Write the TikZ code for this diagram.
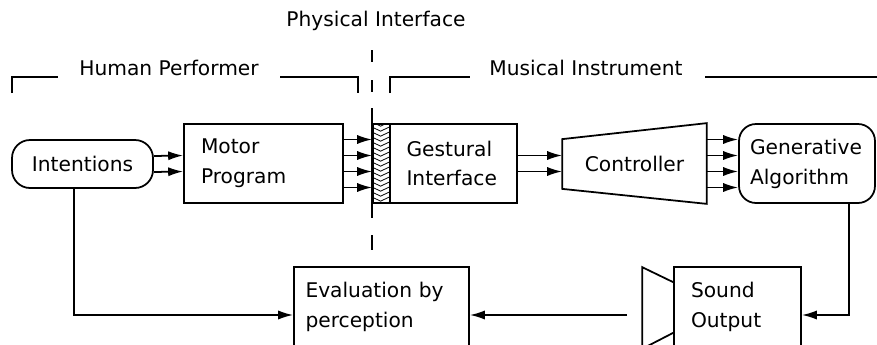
\documentclass[tikz,border=0pt]{standalone}
\usepackage{fontspec}
\setmainfont{DejaVu Sans}
\usetikzlibrary{arrows.meta,calc}

\tikzset{
  lbl/.style={font=\fontsize{11.5}{17}\selectfont},
  blk/.style={lbl, draw, align=left, inner xsep=0.34cm, minimum height=1.58cm},
  pill/.style={lbl, draw, rounded corners=0.36cm},
}

\begin{document}
\begin{tikzpicture}[x=0.02cm, y=-0.02cm, >={Latex[length=8.5pt,width=5.2pt]}, line width=1pt]
  \useasboundingbox (0,0) rectangle (877,345);
  \clip (0,0) rectangle (877,345);

  % blocks
  \node[pill, minimum width=2.82cm, minimum height=0.96cm] (intent) at (82.5,164) {Intentions};
  \node[blk, text width=2.5cm] (motor) at (263.5,163.5) {Motor\\Program};
  \node[draw, minimum width=0.34cm, minimum height=1.58cm, inner sep=0pt] (skin) at (381.5,163.5) {};
  \node[blk, text width=1.88cm, inner xsep=0.33cm] (gest) at (453.5,163.5) {Gestural\\Interface};
  \node[lbl, minimum width=2.86cm, minimum height=1.58cm] (ctrl) at (634.5,163.5) {Controller};
  \node[pill, align=left, rounded corners=0.34cm, text width=2.28cm, inner xsep=0.22cm, minimum height=1.58cm] (gen) at (807,163.5) {Generative\\Algorithm};
  \node[blk, text width=3.04cm, inner xsep=0.23cm] (eval) at (381.5,306.5) {Evaluation by\\perception};
  \node[blk, text width=1.86cm] (sound) at (737.5,306.5) {Sound\\Output};

  % controller outline and loudspeaker
  \draw (ctrl.north east) -- (ctrl.south east) -- ($(ctrl.south west)+(0,-15)$)
    -- ($(ctrl.north west)+(0,16)$) -- cycle;
  \draw ($(sound.north west)+(0,16)$) -- ($(sound.north west)+(-31,1)$)
    -- ($(sound.south west)+(-31,2)$) -- ($(sound.south west)+(0,-14)$);

  % hatching of the physical interface
  \begin{scope}
    \clip (skin.north west) rectangle (skin.south east);
    \foreach \k in {0,...,19}
      \draw[line width=0.45pt] ($(skin.north west)+(0,5*\k-1)$) -- ++(8.5,4) -- ++(8.5,-4);
  \end{scope}

  % labels and brackets
  \node[lbl] (phys) at (376,21) {Physical Interface};
  \node[lbl] (human) at (169,68) {Human Performer};
  \node[lbl] (music) at (586,68) {Musical Instrument};
  \draw (12,93) |- (58,77);
  \draw (280,77) -| (358,93);
  \draw (390,93) |- (470,77);
  \draw (705,77) -- (877,77);
  \foreach \a/\b in {50/62, 80/92, 108/218, 235/250}
    \draw (skin.west |- 0,\a) -- (skin.west |- 0,\b);

  % forward connectors
  \foreach \dy in {-8,8}
    \draw[->] ($(intent.east)+(0,\dy)$) -- ($(motor.west)+(0,\dy)$);
  \foreach \dy in {-24,-8,8,24}
    \draw[->] ($(motor.east)+(0,\dy)$) -- ($(skin.west)+(0,\dy)$);
  \foreach \dy in {-8,8}
    \draw[->] ($(gest.east)+(0,\dy)$) -- ($(ctrl.west)+(0,\dy)$);
  \foreach \dy in {-24,-8,8,24}
    \draw[->] ($(ctrl.east)+(0,\dy)$) -- ($(gen.west)+(0,\dy)$);

  % feedback
  \draw[->] ($(gen.south)+(42,0)$) |- ($(sound.east)+(0,8.5)$);
  \draw[->] ($(sound.west)+(-46,8.5)$) -- ($(eval.east)+(0,8.5)$);
  \draw[->] ($(intent.south)+(-8.5,0)$) |- ($(eval.west)+(0,8.5)$);
\end{tikzpicture}
\end{document}
